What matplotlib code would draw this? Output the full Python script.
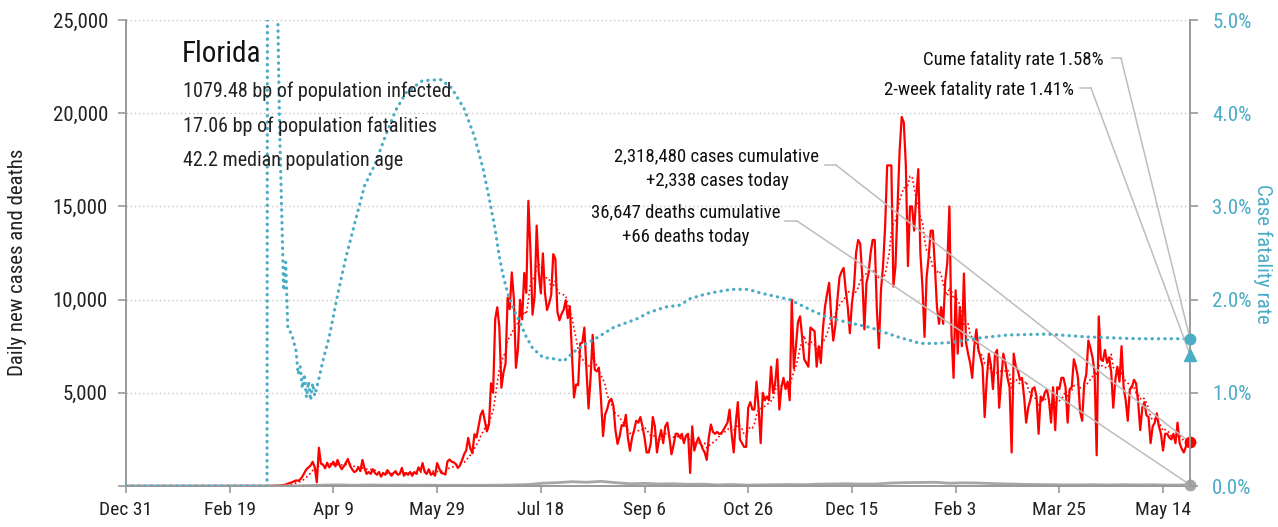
import numpy as np, pandas as pd
import matplotlib
matplotlib.use("Agg")
import matplotlib.pyplot as plt
from matplotlib import font_manager
from matplotlib.lines import Line2D

# ---------------------------------------------------------------------------
# Font: narrow sans if we have one
# ---------------------------------------------------------------------------
installed = {f.name for f in font_manager.fontManager.ttflist}
for fam in ["Liberation Sans Narrow", "DejaVu Sans Condensed", "Roboto Condensed", "Liberation Sans"]:
    if fam in installed:
        plt.rcParams["font.family"] = [fam, "DejaVu Sans"]
        break

# ---------------------------------------------------------------------------
# Data
# ---------------------------------------------------------------------------
START = pd.Timestamp("2019-12-31")

cases_janfeb20 = [0] * 61          # Dec 31 .. Feb 29: nothing reported
cases_mar20 = [2, 0, 1, 2, 2, 3, 4, 6, 5, 8, 10, 15, 20, 30, 40, 50, 80, 120, 160, 200,
               250, 300, 280, 350, 500, 700, 900, 1000, 1100, 1300, 1000]
cases_apr20 = [200, 2050, 1200, 1150, 950, 1250, 1000, 1150, 1300, 1050, 1400, 1100, 900, 1050, 1250,
               1450, 1100, 900, 750, 800, 1000, 800, 1400, 950, 650, 750, 650, 900, 700, 600]
cases_may20 = [750, 500, 700, 600, 850, 700, 550, 700, 800, 600, 650, 970, 550, 700, 600, 750,
               550, 750, 650, 1000, 800, 1230, 750, 650, 900, 600, 700, 550, 1230, 950, 700]
cases_jun20 = [670, 620, 1320, 1420, 1300, 1270, 1180, 970, 1100, 1370, 1700, 1900, 2580, 2020, 1760,
               2780, 2610, 3210, 3820, 4050, 3490, 2930, 3290, 5510, 5000, 8940, 9590, 8530, 5270, 6090]
cases_jul20 = [6560, 10110, 9490, 11460, 10060, 6340, 7360, 9990, 8940, 11430, 10360, 15300, 12620,
               9190, 10180, 13970, 11470, 10330, 12480, 10350, 9440, 9790, 10250, 12440, 12200, 9340,
               8890, 9230, 9450, 9960, 9010]
cases_aug20 = [9640, 7100, 4750, 5450, 5410, 7650, 7690, 8500, 6230, 4160, 5830, 8110, 6240, 6150,
               6350, 4680, 2680, 3840, 4120, 4560, 4680, 4310, 2980, 2260, 2670, 3270, 3220, 3820,
               2580, 1890, 2590]
cases_sep20 = [3000, 3500, 3400, 3700, 3200, 2600, 1800, 1800, 2300, 3700, 3200, 1800, 2500, 3000,
               2300, 3200, 3400, 2600, 1700, 2200, 2800, 2800, 2600, 2800, 2300, 2700, 2800, 700,
               3200, 1900]
cases_oct20 = [2300, 2600, 2300, 2000, 1800, 1400, 2600, 3300, 2900, 2800, 2900, 2800, 2800, 3000,
               3200, 3400, 4100, 2800, 1800, 3400, 4500, 2500, 2300, 2100, 2100, 4200, 4500, 4100,
               4100, 5600, 4200]
cases_nov20 = [2300, 5000, 4600, 4800, 4600, 6400, 5000, 5500, 6800, 4100, 5300, 5800, 5200, 5600,
               4600, 10000, 6300, 7500, 8800, 9100, 8000, 6800, 6600, 6400, 8500, 8400, 8300, 6400,
               7500, 6600]
cases_dec20 = [8400, 9600, 10300, 10900, 9100, 7800, 8600, 10000, 11200, 11500, 11700, 10500, 9600,
               8200, 9800, 10700, 12500, 13200, 13000, 11200, 8400, 10900, 11400, 12500, 13200, 13200,
               9500, 7400, 10500, 11800, 13900]
cases_jan21 = [17200, 17200, 17200, 10700, 11800, 15000, 18000, 19800, 19500, 17200, 11800, 15000,
               15000, 13700, 15500, 17000, 12500, 10700, 8000, 11200, 12300, 13700, 13700, 11800,
               9600, 8700, 9600, 8700, 11000, 12000, 15000]
cases_feb21 = [8200, 5800, 10500, 7100, 9600, 7500, 11400, 7700, 7100, 6600, 5800, 7500, 8400, 7300,
               6900, 6400, 3700, 5700, 7100, 6500, 5200, 7100, 7300, 4200, 5700, 7100, 6600, 5800]
cases_mar21 = [5300, 1800, 7100, 6400, 6200, 5700, 5800, 4800, 3400, 4200, 4600, 5200, 5300, 4800,
               2800, 4800, 4600, 5000, 5200, 4600, 3400, 5300, 3000, 5300, 5200, 5800, 5800, 5300,
               3400, 5200, 5300]
cases_apr21 = [6800, 6400, 5800, 4000, 3500, 5500, 6000, 7800, 7400, 6900, 6100, 1650, 9100, 6800,
               6700, 7300, 6600, 6900, 6100, 4200, 5700, 6400, 5600, 7500, 5300, 4600, 3500, 5200,
               5300, 5700]
cases_may21 = [5500, 4500, 3000, 4200, 4500, 3800, 3700, 2300, 3200, 3400, 3900, 3200, 2800, 1900,
               2800, 2800, 2600, 2500, 2800, 2300, 3400, 2300, 2000, 1800, 2100, 2500, 2338]

# daily deaths, roughly weekly readings (day index from START)
death_days = [0, 61, 68, 75, 82, 89, 96, 103, 110, 117, 124, 131, 138, 145, 152, 159, 166, 173, 180,
              187, 194, 201, 208, 215, 222, 229, 236, 243, 250, 257, 264, 271, 278, 285, 292, 299,
              306, 313, 320, 327, 334, 341, 348, 355, 362, 369, 376, 383, 390, 397, 404, 411, 418,
              425, 432, 439, 446, 453, 460, 467, 474, 481, 488, 495, 502, 509, 513]
death_vals = [0, 0, 1, 3, 10, 25, 50, 60, 40, 55, 45, 50, 40, 45, 35, 40, 35, 40, 45,
              60, 80, 150, 180, 230, 200, 250, 180, 120, 140, 110, 120, 90, 100, 60, 80, 50,
              60, 70, 80, 70, 100, 110, 120, 100, 110, 160, 180, 190, 200, 150, 170, 160, 130,
              110, 90, 80, 70, 60, 60, 70, 55, 70, 60, 70, 50, 55, 66]

# cumulative case fatality rate (%), read at selected days
cfr_days = [0, 68, 69, 72, 73, 74, 75, 76, 77, 78, 80, 82, 83, 84, 85, 86, 87, 88, 89, 90, 91, 93,
            95, 98, 102, 106, 111, 115, 120, 125, 130, 135, 143, 152, 157, 163, 168, 172, 175, 178,
            180, 182, 184, 187, 190, 193, 196, 201, 208, 211, 216, 222, 227, 235, 241, 246, 252,
            260, 267, 272, 278, 284, 292, 300, 306, 320, 330, 338, 349, 359, 372, 383, 390, 398,
            412, 425, 444, 463, 487, 513]
cfr_pct = [0, 0, 30, 30, 5.3, 3.9, 3.0, 2.1, 2.4, 1.7, 1.62, 1.45, 1.2, 1.28, 1.05, 1.2, 0.95, 1.12,
           0.92, 1.1, 0.97, 1.15, 1.35, 1.6, 2.05, 2.45, 2.88, 3.22, 3.45, 3.75, 4.03, 4.22, 4.35,
           4.36, 4.27, 4.05, 3.75, 3.42, 3.1, 2.75, 2.46, 2.24, 2.07, 1.89, 1.75, 1.6, 1.48, 1.38,
           1.36, 1.34, 1.44, 1.53, 1.59, 1.7, 1.75, 1.79, 1.86, 1.92, 1.94, 2.01, 2.05, 2.08, 2.11,
           2.11, 2.07, 2.0, 1.89, 1.81, 1.75, 1.70, 1.60, 1.53, 1.53, 1.54, 1.59, 1.62, 1.63, 1.60,
           1.58, 1.58]

STATE = "Florida"
stats_lines = ["1079.48 bp of population infected",
               "17.06 bp of population fatalities",
               "42.2 median population age"]
cum_cases, cum_deaths = 2318480, 36647
cume_rate, two_week_rate = 1.58, 1.41

# ---------------------------------------------------------------------------
# Assemble
# ---------------------------------------------------------------------------
cases = np.array(cases_janfeb20 + cases_mar20 + cases_apr20 + cases_may20 + cases_jun20 +
                 cases_jul20 + cases_aug20 + cases_sep20 + cases_oct20 + cases_nov20 +
                 cases_dec20 + cases_jan21 + cases_feb21 + cases_mar21 + cases_apr21 + cases_may21)
dates = pd.date_range(START, periods=len(cases), freq="D")
cases_avg = pd.Series(cases).rolling(7, min_periods=1).mean()
death_dates = START + pd.to_timedelta(death_days, unit="D")
cfr_dates = START + pd.to_timedelta(cfr_days, unit="D")
last = dates[-1]

RED, BLUE, GREY, LEAD = "#FF0000", "#4BACC6", "#A6A6A6", "#BDBDBD"
W, H = 1278, 527
def fx(x): return x / W
def fy(y): return 1 - y / H

fig = plt.figure(figsize=(W / 100, H / 100), dpi=100)
ax = fig.add_axes([fx(126), fy(486), (1190 - 126) / W, (486 - 20) / H])
ax2 = ax.twinx()

ax.plot(dates, cases_avg, color=RED, lw=1.2, ls=(0, (1, 1.6)))
ax.plot(dates, cases, color=RED, lw=1.6)
ax.plot(death_dates, death_vals, color=GREY, lw=2.0)
ax2.plot(cfr_dates, cfr_pct, color=BLUE, lw=2.3, ls=(0, (0.1, 1.9)), dash_capstyle="round")

ax.set_xlim(dates[0], last)
ax.set_ylim(0, 25000)
ax2.set_ylim(0, 5)

yt = list(range(0, 25001, 5000))
ax.set_yticks(yt)
ax.set_yticklabels(["" if v == 0 else f"{v:,}" for v in yt])
rt = [0, 1, 2, 3, 4, 5]
ax2.set_yticks(rt)
ax2.set_yticklabels([f"{v:.1f}%" for v in rt])
xt = [START + pd.Timedelta(days=50 * k) for k in range(11)]
ax.set_xticks(xt)
ax.set_xticklabels([f"{d:%b} {d.day}" for d in xt])

ax.grid(axis="y", color="#C4C4C4", ls=(0, (1, 2)), lw=1.0)
for sp in ["top", "right"]:
    ax.spines[sp].set_visible(False)
for sp in ["top", "left", "bottom"]:
    ax2.spines[sp].set_visible(False)
for a, sp in [(ax, "left"), (ax, "bottom"), (ax2, "right")]:
    a.spines[sp].set_color("#9A9A9A")
    a.spines[sp].set_linewidth(1.4)
ax.tick_params(axis="y", length=6, width=1.2, color="#9A9A9A", labelsize=15, pad=7, labelcolor="#222222")
ax.tick_params(axis="x", length=5, width=1.2, color="#9A9A9A", labelsize=14, pad=6, labelcolor="#222222")
ax2.tick_params(axis="y", length=6, width=1.2, color="#9A9A9A", labelsize=15, pad=10, labelcolor=BLUE)

fig.text(fx(18), fy(262), "Daily new cases and deaths", rotation=90, ha="center", va="center",
         fontsize=15, color="#222222")
fig.text(fx(1263), fy(254), "Case fatality rate", rotation=270, ha="center", va="center",
         fontsize=15, color=BLUE)

# title block
fig.text(fx(182), fy(62), STATE, fontsize=21, va="baseline", color="#111111")
for line, yb in zip(stats_lines, [97, 132, 166]):
    fig.text(fx(183), fy(yb), line, fontsize=14.5, va="baseline", color="#222222")

# end markers
ax.plot(last, cases[-1], "o", color=RED, ms=7.5, clip_on=False, zorder=6)
ax.plot(last, death_vals[-1], "o", color=GREY, ms=7.5, clip_on=False, zorder=6)
ax2.plot(last, cume_rate, "o", color=BLUE, ms=7.5, clip_on=False, zorder=6)
ax2.plot(last, two_week_rate, "^", color=BLUE, ms=8, clip_on=False, zorder=6)

# annotations with leader lines
def leader(target_ax, yval, x0, x1, yl):
    fig.add_artist(Line2D([fx(x0), fx(x1)], [fy(yl), fy(yl)], transform=fig.transFigure,
                          color=LEAD, lw=1.1))
    target_ax.annotate("", xy=(last, yval), xycoords="data", xytext=(fx(x1), fy(yl)),
                       textcoords="figure fraction", annotation_clip=False,
                       arrowprops=dict(arrowstyle="-", color=LEAD, lw=1.1, shrinkA=0, shrinkB=0))

fs_note = 13.5
fig.text(fx(1104), fy(65), f"Cume fatality rate {cume_rate:.2f}%", ha="right", va="baseline",
         fontsize=fs_note, color="#111111")
leader(ax2, cume_rate, 1112, 1121, 58)
fig.text(fx(1074), fy(95), f"2-week fatality rate {two_week_rate:.2f}%", ha="right", va="baseline",
         fontsize=fs_note, color="#111111")
leader(ax2, two_week_rate, 1080, 1091, 88)

fig.text(fx(717), fy(161), f"{cum_cases:,} cases cumulative", ha="center", va="baseline",
         fontsize=fs_note, color="#111111")
fig.text(fx(717), fy(186), f"+{cases[-1]:,} cases today", ha="center", va="baseline",
         fontsize=fs_note, color="#111111")
leader(ax, cases[-1], 825, 836, 165)
fig.text(fx(686), fy(217), f"{cum_deaths:,} deaths cumulative", ha="center", va="baseline",
         fontsize=fs_note, color="#111111")
fig.text(fx(686), fy(242), f"+{death_vals[-1]} deaths today", ha="center", va="baseline",
         fontsize=fs_note, color="#111111")
leader(ax, death_vals[-1], 785, 797, 221)

fig.savefig("out.png", dpi=100)
